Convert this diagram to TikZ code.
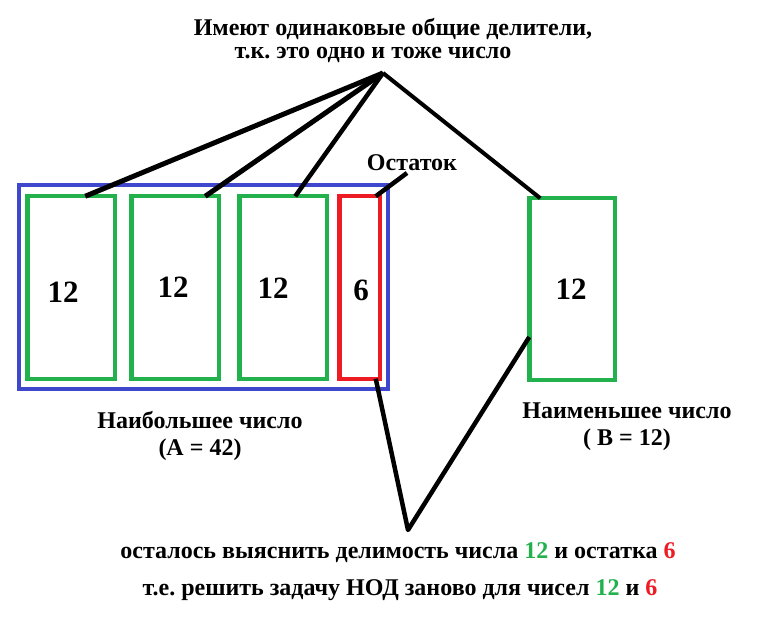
\documentclass[tikz,border=0pt]{standalone}
\usepackage{fontspec}
\setmainfont{Liberation Serif}
\frenchspacing
\definecolor{pgreen}{RGB}{34,177,76}
\definecolor{pred}{RGB}{237,28,36}
\definecolor{pblue}{RGB}{63,72,204}
\tikzset{
  box/.style={draw=pgreen, line width=4.5pt, inner sep=0pt, outer sep=0pt, minimum width=87.5pt, minimum height=182.5pt},
  num/.style={font=\fontsize{31}{31}\selectfont\bfseries, inner sep=0pt},
  lbl/.style={font=\fontsize{24}{27}\selectfont\bfseries, inner sep=0pt, align=center},
  blbl/.style={font=\fontsize{24}{26}\selectfont\bfseries, inner sep=0pt, align=center},
  conn/.style={draw=black, line width=4.5pt},
}
\begin{document}
\begin{tikzpicture}[x=1pt,y=-1pt]
\useasboundingbox (0,0) rectangle (757,617);
% boxes
\node[box, draw=pblue, line width=4pt, minimum width=369pt, minimum height=204pt] (A) at (203.5,287) {};
\node[box] (r1) at (71,287.5) {};
\node[box] (r2) at (175,287.5) {};
\node[box] (r3) at (283,287.5) {};
\node[box, draw=pred, minimum width=40.5pt] (rr) at (359.5,287.5) {};
\node[box, minimum width=85.5pt, minimum height=181.5pt] (g) at (572,289) {};
% numbers
\node[num] (n1) at (63,292) {12};
\node[num] (n2) at (173,287) {12};
\node[num] (n3) at (273,288) {12};
\node[num] (n4) at (361,290) {6};
\node[num] (n5) at (571,289) {12};
% texts
\node[lbl] (t1) at (393,29) {Имеют одинаковые общие делители,};
\node[lbl] (t2) at (373,55) {т.к. это одно и тоже число};
\node[lbl] (ost) at (412,163) {Остаток};
\node[lbl] (la) at (200,436) {Наибольшее число\\(A = 42)};
\node[lbl] (lb) at (627,427) {Наименьшее число\\( B = 12)};
\node[blbl] (b1) at (398,553) {осталось выяснить делимость числа \textcolor{pgreen}{12} и остатка \textcolor{pred}{6}};
\node[blbl] (b2) at (400,590) {т.е. решить задачу НОД заново для чисел \textcolor{pgreen}{12} и \textcolor{pred}{6}};
% connectors
\coordinate (apex) at (383,73);
\coordinate (ostend) at (407,173);
\coordinate (bot) at (408,530);
\draw[conn, line width=5pt] (apex) -- ([xshift=58pt]r1.north west);
\draw[conn, line width=5pt] (apex) -- ([xshift=74pt]r2.north west);
\draw[conn] (apex) -- ([xshift=56pt]r3.north west);
\draw[conn, line width=4pt] (apex) -- ([xshift=11pt]g.north west);
\draw[conn] (ostend) -- ([xshift=-4pt]rr.north east);
\draw[conn, line join=round] ([xshift=-4pt]rr.south east) -- (bot) -- ([yshift=-48pt]g.west);
\end{tikzpicture}
\end{document}
